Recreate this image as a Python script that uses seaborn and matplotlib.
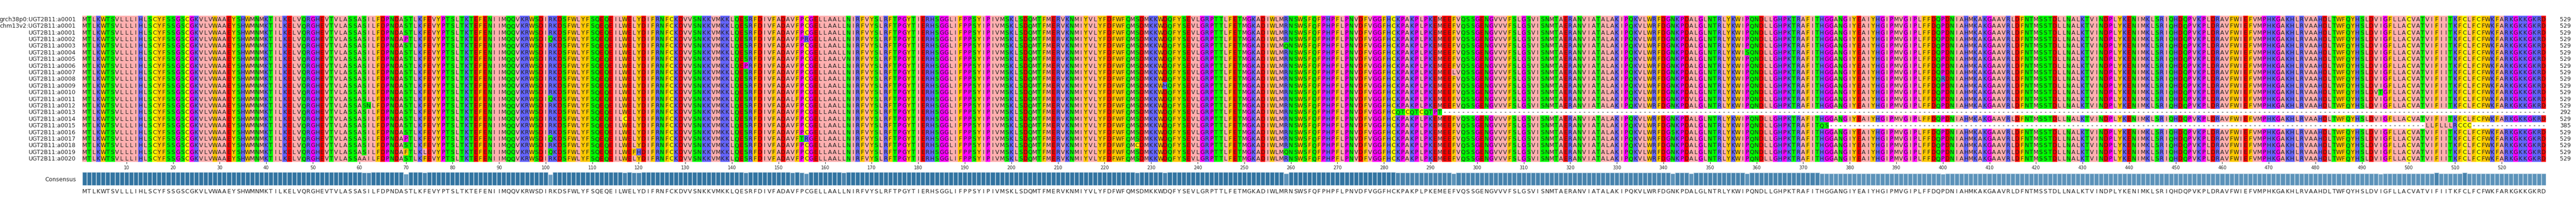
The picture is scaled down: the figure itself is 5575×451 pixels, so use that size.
import numpy as np
import pandas as pd
import matplotlib
matplotlib.use("Agg")
import matplotlib.pyplot as plt
from matplotlib.colors import ListedColormap, to_rgb
import seaborn as sns

sns.set_style("white")
plt.rcParams["font.family"] = ["DejaVu Sans"]

CONSENSUS = (
    "MTLKWTSVLLLIHLSCYFSSGSCGKVLVWAAEYSHWMNMKTILKELVQRGHEV"
    "TVLASSASILFDPNDASTLKFEVYPTSLTKTEFENIIMQQVKRWSDIRKDSFW"
    "LYFSQEQEILWELYDIFRNFCKDVVSNKKVMKKLQESRFDIVFADAVFPCGE"
    "LLAALLNIRFVYSLRFTPGYTIERHSGGLIFPPSYIPIVMSKLSDQMTFMERV"
    "KNMIYVLYFDFWFQMSDMKKWDQFYSEVLGRPTTLFETMGKADIWLMRNSWSF"
    "QFPHPFLPNVDFVGGFHCKPAKPLPKEMEEFVQSSGENGVVVFSLGSVISNM"
    "TAERANVIATALAKIPQKVLWRFDGNKPDALGLNTRLYKWIPQNDLLGHPKTR"
    "AFITHGGANGIYEAIYHGIPMVGIPLFFDQPDNIAHMKAKGAAVRLDFNTMSS"
    "TDLLNALKTVINDPLYKENIMKLSRIQHDQPVKPLDRAVFWIEFVMPHKGAK"
    "HLRVAAHDLTWFQYHSLDVIGFLLACVATVIFIITKFCLFCFWKFARKGKKGKRD"
)
assert len(CONSENSUS) == 529, len(CONSENSUS)

ROW_NAMES = ["grch38p0:UGT2B11:a0001", "chm13v2:UGT2B11:a0001"] + \
    [f"UGT2B11:a{i:04d}" for i in range(1, 21)]

# (row index, 1-based column, residue)
SUBSTITUTIONS = [
    (3, 70, "P"), (3, 101, "Q"), (3, 156, "R"),
    (4, 259, "Q"),
    (5, 358, "S"),
    (6, 164, "V"),
    (7, 143, "P"),
    (8, 295, "L"),
    (9, 400, "R"),
    (10, 233, "H"),
    (11, 494, "T"),
    (12, 101, "Q"), (12, 153, "L"), (12, 346, "V"),
    (13, 62, "N"),
    (15, 117, "C"),
    (17, 342, "S"),
    (18, 70, "P"), (18, 101, "Q"), (18, 155, "T"), (18, 156, "R"),
    (19, 227, "C"),
    (20, 70, "F"), (20, 74, "L"), (20, 101, "Q"), (20, 119, "F"), (20, 120, "H"), (20, 259, "Q"),
    (21, 61, "A"),
]

# row a0013: frameshift tail then gaps
A0013_TAIL_START = 283
A0013_TAIL = "QTCQTCQTPT"
# row a0015: truncated, gap, then short fragment
A0015_TAIL_START = 374
A0015_TAIL = "QS"
A0015_FRAG_START = 504
A0015_FRAG = "LLFLLLRCCC"

ZAPPO = {
    "ILVAM": "#ffafaf", "FWY": "#ffc800", "KRH": "#6464ff", "DE": "#ff0000",
    "STNQ": "#00ff00", "PG": "#ff00ff", "C": "#ffff00",
}

n_rows, n_cols = len(ROW_NAMES), len(CONSENSUS)
seqs = [list(CONSENSUS) for _ in range(n_rows)]
for r, c, aa in SUBSTITUTIONS:
    seqs[r][c - 1] = aa
s = seqs[14]
for i in range(A0013_TAIL_START - 1, n_cols):
    s[i] = "-"
for k, aa in enumerate(A0013_TAIL):
    s[A0013_TAIL_START - 1 + k] = aa
s = seqs[16]
for i in range(A0015_TAIL_START - 1, n_cols):
    s[i] = "-"
for k, aa in enumerate(A0015_TAIL):
    s[A0015_TAIL_START - 1 + k] = aa
for k, aa in enumerate(A0015_FRAG):
    s[A0015_FRAG_START - 1 + k] = aa

groups = list(ZAPPO.keys())
colors = ["#ffffff"] + [ZAPPO[g] for g in groups]
def code(aa):
    for i, g in enumerate(groups):
        if aa in g:
            return i + 1
    return 0

letters = np.array(seqs)
codes = np.vectorize(code)(letters)
df = pd.DataFrame(codes, index=ROW_NAMES, columns=range(1, n_cols + 1))

match = (letters == np.array(list(CONSENSUS))[None, :]).sum(axis=0) / n_rows
lengths = (letters != "-").sum(axis=1)

fig = plt.figure(figsize=(55.75, 4.52), dpi=100)
ax = fig.add_axes([178 / 5575, 1 - 352 / 452, (5510 - 178) / 5575, 317 / 452])
ax2 = fig.add_axes([178 / 5575, 1 - 403 / 452, (5510 - 178) / 5575, 29 / 452])

sns.heatmap(df, ax=ax, cmap=ListedColormap(colors), vmin=-0.5, vmax=len(colors) - 0.5,
            cbar=False, annot=letters, fmt="", linewidths=0,
            annot_kws={"fontsize": 9, "color": "#222222"})
ticks = np.arange(10, n_cols + 1, 10)
ax.set_xticks(ticks - 0.5)
ax.set_xticklabels([str(t) for t in ticks], fontsize=7, rotation=0)
ax.tick_params(axis="x", length=3, width=0.8, bottom=True, pad=2)
ax.set_yticks(np.arange(n_rows) + 0.5)
ax.set_yticklabels(ROW_NAMES, fontsize=9, rotation=0)
ax.tick_params(axis="y", length=0, pad=10)
ax.set_xlabel("")
for i, L in enumerate(lengths):
    ax.text(n_cols + 3, i + 0.5, str(L), ha="left", va="center", fontsize=9, color="#222222")

base = np.array(to_rgb("#1f77b4"))
light = np.array(to_rgb("#5b9fd0"))
bar_cols = []
for m in match:
    t = np.clip((1 - m) / 0.12, 0, 1)
    bar_cols.append(tuple(base * (1 - t) + light * t))
cons_df = pd.DataFrame({"pos": np.arange(n_cols), "score": match})
sns.barplot(data=cons_df, x="pos", y="score", hue="pos", palette=bar_cols,
            legend=False, width=1.0, edgecolor="#d8e6f0", linewidth=1, ax=ax2)
ax2.set_xlim(-0.5, n_cols - 0.5)
ax2.set_ylim(0, 1.0)
ax2.set_xticks(np.arange(n_cols))
ax2.set_xticklabels(list(CONSENSUS), fontsize=9, color="#222222")
ax2.tick_params(axis="x", length=0, pad=4)
ax2.set_yticks([0.5])
ax2.set_yticklabels(["Consensus"], fontsize=9)
ax2.tick_params(axis="y", length=0, pad=10)
ax2.set_xlabel("")
ax2.set_ylabel("")
for sp in ax2.spines.values():
    sp.set_visible(False)

fig.savefig("out.png", dpi=100)
